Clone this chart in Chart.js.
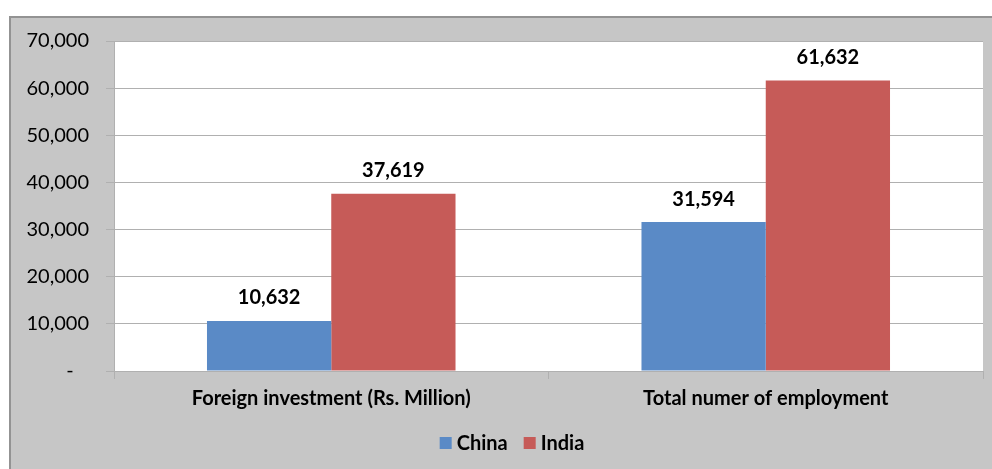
<!DOCTYPE html>
<html>
<head>
<meta charset="utf-8">
<script src="https://cdn.jsdelivr.net/npm/chart.js@4"></script>
<style>
  html, body { margin: 0; padding: 0; background: #fff; }
  #wrap { width: 992px; height: 469px; }
</style>
</head>
<body>
<div id="wrap"><canvas id="chart" width="992" height="469"></canvas></div>
<script>
const CATEGORIES = ["Foreign investment (Rs. Million)", "Total numer of employment"];
const SERIES = ["China", "India"];
const CHINA = [10632, 31594];
const INDIA = [37619, 61632];
const Y_TICKS = [0, 10000, 20000, 30000, 40000, 50000, 60000, 70000];
const COLORS = ["#5a8ac6", "#c65b58"];

const FONT = "Lato, 'Open Sans', sans-serif";
const GRID = "#b0b0b0";

// grey frame and white plot area, like the original spreadsheet chart
const framePlugin = {
	id: "frame",
	beforeDraw(chart) {
		const { ctx, chartArea } = chart;
		ctx.save();
		ctx.fillStyle = "#ffffff";
		ctx.fillRect(0, 0, chart.width, chart.height);
		ctx.fillStyle = "#c6c6c6";
		ctx.fillRect(9, 16, chart.width - 9, chart.height - 16);
		ctx.fillStyle = "#939393";
		ctx.fillRect(9, 16, chart.width - 9, 2);
		ctx.fillRect(9, 16, 2, chart.height - 16);
		ctx.fillStyle = "#ffffff";
		ctx.fillRect(chartArea.left, chartArea.top, chartArea.right - chartArea.left, chartArea.bottom - chartArea.top);
		ctx.restore();
	},
};

// value labels above each bar
const valueLabels = {
	id: "valueLabels",
	afterDatasetsDraw(chart) {
		const { ctx } = chart;
		ctx.save();
		ctx.font = "bold 20px " + FONT;
		ctx.fillStyle = "#000";
		ctx.textAlign = "center";
		ctx.textBaseline = "middle";
		chart.data.datasets.forEach((ds, i) => {
			chart.getDatasetMeta(i).data.forEach((bar, j) => {
				ctx.fillText(ds.data[j].toLocaleString("en-US"), bar.x, bar.y - 23);
			});
		});
		ctx.restore();
	},
};

// legend drawn by hand so the spacing matches the Excel one
const excelLegend = {
	id: "excelLegend",
	afterDraw(chart) {
		const { ctx } = chart;
		const box = 12, gap = 5, itemGap = 16;
		ctx.save();
		ctx.font = "bold 20px " + FONT;
		ctx.textBaseline = "middle";
		ctx.textAlign = "left";
		const items = chart.data.datasets.map((ds) => ({
			label: ds.label,
			color: ds.backgroundColor,
			w: box + gap + ctx.measureText(ds.label).width,
		}));
		const total = items.reduce((s, it) => s + it.w, 0) + itemGap * (items.length - 1);
		let x = 512 - total / 2;
		const y = 443;
		items.forEach((it) => {
			ctx.fillStyle = it.color;
			ctx.fillRect(x, y - box / 2, box, box);
			ctx.fillStyle = "#000";
			ctx.fillText(it.label, x + box + gap, y + 1);
			x += it.w + itemGap;
		});
		ctx.restore();
	},
};

new Chart(document.getElementById("chart"), {
	type: "bar",
	data: {
		labels: CATEGORIES,
		datasets: [
			{ label: SERIES[0], data: CHINA, backgroundColor: COLORS[0], borderWidth: 0 },
			{ label: SERIES[1], data: INDIA, backgroundColor: COLORS[1], borderWidth: 0 },
		],
	},
	options: {
		responsive: false,
		animation: false,
		devicePixelRatio: 1,
		categoryPercentage: 0.572,
		barPercentage: 1,
		layout: { padding: { top: 41, right: 9, left: 0, bottom: 48 } },
		plugins: {
			legend: { display: false },
			tooltip: { enabled: false },
		},
		scales: {
			x: {
				border: { color: GRID },
				grid: { display: true, drawOnChartArea: false, color: GRID, tickLength: 8, offset: true },
				ticks: { font: { family: FONT, size: 20, weight: "bold" }, color: "#000", padding: 8 },
				afterFit(scale) {
					scale.height = 50;
				},
			},
			y: {
				min: 0,
				max: 70000,
				border: { color: GRID },
				grid: { color: GRID, tickLength: 8 },
				afterBuildTicks(scale) {
					scale.ticks = Y_TICKS.map((v) => ({ value: v }));
				},
				ticks: {
					font: { family: FONT, size: 20 },
					color: "#000",
					padding: 17,
					// excel accounting format puts the zero dash a little left of the numbers
					callback: (v) => (v === 0 ? "-\u00a0\u00a0\u00a0" : v.toLocaleString("en-US")),
				},
				afterFit(scale) {
					scale.width = 114;
				},
			},
		},
	},
	plugins: [framePlugin, valueLabels, excelLegend],
});
</script>
</body>
</html>
